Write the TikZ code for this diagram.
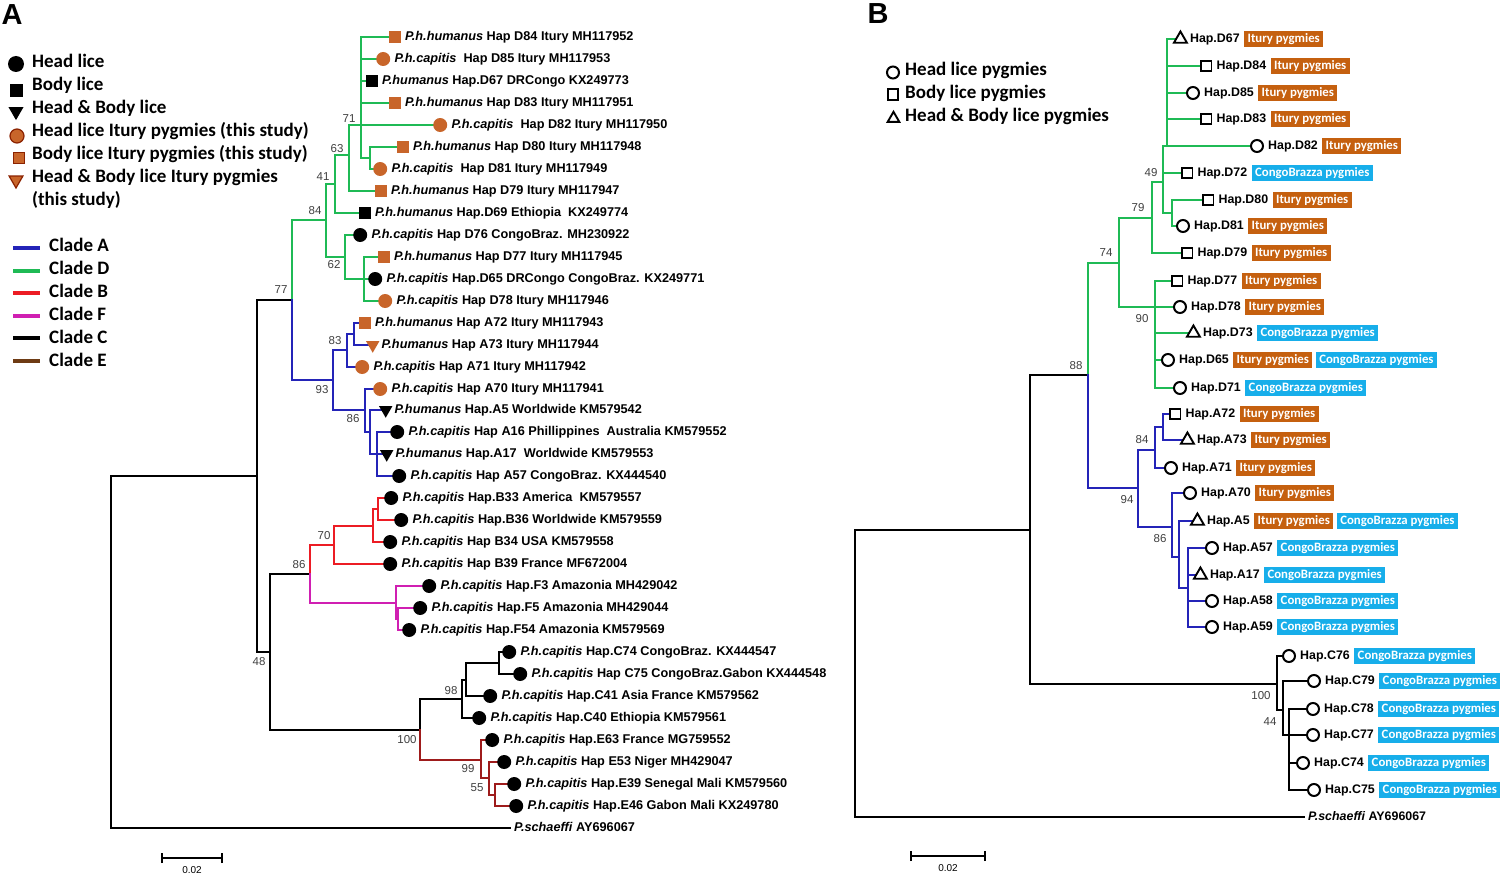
\documentclass[tikz,border=0pt]{standalone}
\usepackage{fontspec}
\setmainfont{Liberation Sans}
\newfontfamily\calfont{Carlito}
\usetikzlibrary{shapes.geometric,backgrounds}
\definecolor{clG}{HTML}{1FBA55}
\definecolor{clA}{HTML}{2424B8}
\definecolor{clB}{HTML}{EC1C24}
\definecolor{clF}{HTML}{D01FB2}
\definecolor{clE}{HTML}{9E1B1B}
\definecolor{clEleg}{HTML}{6E3B14}
\definecolor{orM}{HTML}{C8652A}
\definecolor{orEdge}{HTML}{8B2200}
\definecolor{boxOr}{HTML}{C5600F}
\definecolor{boxCy}{HTML}{17AEEA}
\definecolor{bsGray}{HTML}{404040}
\tikzset{
 br/.style={line width=2.2pt, line cap=rect},
 brK/.style={br, draw=black},
 brG/.style={br, draw=clG},
 brA/.style={br, draw=clA},
 brB/.style={br, draw=clB},
 brF/.style={br, draw=clF},
 brE/.style={br, draw=clE},
 bsl/.style={font=\fontsize{11.5}{12}\selectfont, text=bsGray, inner sep=0pt},
 labA/.style={font=\fontsize{12.7}{14}\selectfont\bfseries, inner sep=0pt, anchor=west, xshift=4pt, text height=9pt, text depth=2.5pt},
 labB/.style={font=\fontsize{12.4}{14}\selectfont\bfseries, inner sep=0pt, anchor=west, xshift=4pt, text height=9pt, text depth=2.5pt},
 tagbox/.style={font=\calfont\bfseries\fontsize{12.8}{14}\selectfont, text=white, inner xsep=3.5pt, inner ysep=1.5pt, text height=9.3pt, text depth=3pt, anchor=west, xshift=4pt},
 itury/.style={tagbox, fill=boxOr},
 congo/.style={tagbox, fill=boxCy},
 legtxt/.style={font=\calfont\bfseries\fontsize{19}{22}\selectfont, inner sep=0pt, anchor=west, text height=13pt, text depth=4pt},
 mkC/.style={circle, fill=black, minimum size=14pt, inner sep=0pt},
 mkS/.style={rectangle, fill=black, minimum size=11.5pt, inner sep=0pt},
 mkT/.style={regular polygon, regular polygon sides=3, shape border rotate=180, fill=black, minimum size=15.5pt, inner sep=0pt},
 mkOC/.style={mkC, fill=orM},
 mkOS/.style={mkS, fill=orM},
 mkOT/.style={mkT, fill=orM},
 opC/.style={circle, draw=black, line width=2pt, minimum size=12pt, inner sep=0pt},
 opS/.style={rectangle, draw=black, line width=1.9pt, minimum size=10.5pt, inner sep=0pt},
 opT/.style={regular polygon, regular polygon sides=3, draw=black, line width=1.9pt, minimum size=15pt, inner sep=0pt},
 sclab/.style={font=\fontsize{10}{11}\selectfont, inner sep=0pt},
 clsample/.style={line width=3.5pt},
}
\newcommand\tipA[5]{\node[#4, anchor=west] (m#1) at (#2,#3) {};\node[labA] (l#1) at (m#1.east) {#5};}
\newcommand\tipB[5]{\node[#4, anchor=west] (m#1) at (#2,#3) {};\node[labB] (l#1) at (m#1.east) {#5};}
\newcommand\tagI[2]{\node[itury] (#1) at (#2.east) {Itury pygmies};}
\newcommand\tagC[2]{\node[congo] (#1) at (#2.east) {CongoBrazza pygmies};}
\begin{document}
\begin{tikzpicture}[x=1pt,y=-1pt]
\begin{scope}[on background layer]
\fill[white] (0,0) rectangle (1512,875);
\end{scope}
\useasboundingbox (0,0) rectangle (1512,875);

% panel letters
\node[font=\bfseries\fontsize{29}{30}\selectfont, inner sep=0pt] (pA) at (12,15) {A};
\node[font=\bfseries\fontsize{29}{30}\selectfont, inner sep=0pt] (pB) at (878,14) {B};

% legend A
\node[mkC, minimum size=16pt] (lgC) at (16,64) {};
\node[mkS, minimum size=13pt] (lgS) at (16,90) {};
\node[mkT, minimum size=17.4pt] (lgT) at (16,111.4) {};
\node[mkOC, draw=orEdge, line width=1.2pt, minimum size=14pt] (lgOC) at (17,136) {};
\node[mkOS, draw=orEdge, line width=1.2pt, minimum size=11pt] (lgOS) at (19,158) {};
\node[mkOT, draw=orEdge, line width=1.2pt, minimum size=16pt] (lgOT) at (16,180) {};
\node[legtxt] (lt1) at (32,63) {Head lice};
\node[legtxt] (lt2) at (32,86) {Body lice};
\node[legtxt] (lt3) at (32,109) {Head \& Body lice};
\node[legtxt] (lt4) at (32,132) {Head lice Itury pygmies (this study)};
\node[legtxt] (lt5) at (32,155) {Body lice Itury pygmies (this study)};
\node[legtxt] (lt6) at (32,178) {Head \& Body lice Itury pygmies};
\node[legtxt] (lt7) at (32,201) {(this study)};
\draw[clsample, clA] (13,248) -- (40,248);
\draw[clsample, clG] (13,271) -- (40,271);
\draw[clsample, clB] (13,293) -- (40,293);
\draw[clsample, clF] (13,316) -- (40,316);
\draw[clsample, black] (13,338) -- (40,338);
\draw[clsample, clEleg] (13,361) -- (40,361);
\node[legtxt] (lc1) at (49,247) {Clade A};
\node[legtxt] (lc2) at (49,270) {Clade D};
\node[legtxt] (lc3) at (49,293) {Clade B};
\node[legtxt] (lc4) at (49,316) {Clade F};
\node[legtxt] (lc5) at (49,339) {Clade C};
\node[legtxt] (lc6) at (49,362) {Clade E};

% ---------- Panel A tree ----------
\coordinate (RA) at (111,652);
\coordinate (N48) at (257,476);
\coordinate (N77) at (292,300);
\coordinate (N84) at (326,220);
\coordinate (N41) at (335,184);
\coordinate (N63) at (349,155);
\coordinate (N71) at (361,125);
\coordinate (NDa) at (370,158);
\coordinate (N62) at (345,257);
\coordinate (NDb) at (364,279);
\coordinate (N93) at (333,380);
\coordinate (N83) at (347,350);
\coordinate (NAa) at (354,334);
\coordinate (N86) at (365,410);
\coordinate (NAb) at (370,432);
\coordinate (NAc) at (377,454);
\coordinate (NBCFE) at (270,652);
\coordinate (N86BF) at (310,574);
\coordinate (N70) at (334,545);
\coordinate (NBa) at (373,526);
\coordinate (NBb) at (378,509);
\coordinate (NF) at (396,603);
\coordinate (NFa) at (398,619);
\coordinate (N100) at (420,730);
\coordinate (N98) at (462,699);
\coordinate (NCa) at (466,680);
\coordinate (NCb) at (499,663);
\coordinate (N99) at (481,760);
\coordinate (N55) at (489,778);
\coordinate (NEa) at (495,795);
\coordinate (tPS) at (510,828);

\tipA{D84}{389}{37}{mkOS}{\textit{P.h.humanus} Hap D84 Itury MH117952}
\tipA{D85}{376}{59}{mkOC}{\textit{P.h.capitis}\ \ Hap D85 Itury MH117953}
\tipA{D67}{366}{81}{mkS}{\textit{P.humanus} Hap.D67 DRCongo KX249773}
\tipA{D83}{389}{103}{mkOS}{\textit{P.h.humanus} Hap D83 Itury MH117951}
\tipA{D82}{433}{125}{mkOC}{\textit{P.h.capitis}\ \ Hap D82 Itury MH117950}
\tipA{D80}{397}{147}{mkOS}{\textit{P.h.humanus} Hap D80 Itury MH117948}
\tipA{D81}{373}{169}{mkOC}{\textit{P.h.capitis}\ \ Hap D81 Itury MH117949}
\tipA{D79}{375}{191}{mkOS}{\textit{P.h.humanus} Hap D79 Itury MH117947}
\tipA{D69}{359}{213}{mkS}{\textit{P.h.humanus} Hap.D69 Ethiopia\ \ KX249774}
\tipA{D76}{353}{235}{mkC}{\textit{P.h.capitis} Hap D76 CongoBraz. MH230922}
\tipA{D77}{378}{257}{mkOS}{\textit{P.h.humanus} Hap D77 Itury MH117945}
\tipA{D65}{368}{279}{mkC}{\textit{P.h.capitis} Hap.D65 DRCongo CongoBraz. KX249771}
\tipA{D78}{378}{301}{mkOC}{\textit{P.h.capitis} Hap D78 Itury MH117946}
\tipA{A72}{359}{323}{mkOS}{\textit{P.h.humanus} Hap A72 Itury MH117943}
\tipA{A73}{368}{345}{mkOT}{\textit{P.humanus} Hap A73 Itury MH117944}
\tipA{A71}{355}{367}{mkOC}{\textit{P.h.capitis} Hap A71 Itury MH117942}
\tipA{A70}{373}{389}{mkOC}{\textit{P.h.capitis} Hap A70 Itury MH117941}
\tipA{A5}{381}{410}{mkT}{\textit{P.humanus} Hap.A5 Worldwide KM579542}
\tipA{A16}{390}{432}{mkC}{\textit{P.h.capitis} Hap A16 Phillippines\ \ Australia KM579552}
\tipA{A17}{382}{454}{mkT}{\textit{P.humanus} Hap.A17\ \ Worldwide KM579553}
\tipA{A57}{392}{476}{mkC}{\textit{P.h.capitis} Hap A57 CongoBraz. KX444540}
\tipA{B33}{384}{498}{mkC}{\textit{P.h.capitis} Hap.B33 America\ \ KM579557}
\tipA{B36}{394}{520}{mkC}{\textit{P.h.capitis} Hap.B36 Worldwide KM579559}
\tipA{B34}{383}{542}{mkC}{\textit{P.h.capitis} Hap B34 USA KM579558}
\tipA{B39}{383}{564}{mkC}{\textit{P.h.capitis} Hap B39 France MF672004}
\tipA{F3}{422}{586}{mkC}{\textit{P.h.capitis} Hap.F3 Amazonia MH429042}
\tipA{F5}{413}{608}{mkC}{\textit{P.h.capitis} Hap.F5 Amazonia MH429044}
\tipA{F54}{402}{630}{mkC}{\textit{P.h.capitis} Hap.F54 Amazonia KM579569}
\tipA{C74}{502}{652}{mkC}{\textit{P.h.capitis} Hap.C74 CongoBraz. KX444547}
\tipA{C75}{513}{674}{mkC}{\textit{P.h.capitis} Hap C75 CongoBraz.Gabon KX444548}
\tipA{C41}{483}{696}{mkC}{\textit{P.h.capitis} Hap.C41 Asia France KM579562}
\tipA{C40}{472}{718}{mkC}{\textit{P.h.capitis} Hap.C40 Ethiopia KM579561}
\tipA{E63}{485}{740}{mkC}{\textit{P.h.capitis} Hap.E63 France MG759552}
\tipA{E53}{497}{762}{mkC}{\textit{P.h.capitis} Hap E53 Niger MH429047}
\tipA{E39}{507}{784}{mkC}{\textit{P.h.capitis} Hap.E39 Senegal Mali KM579560}
\tipA{E46}{509}{806}{mkC}{\textit{P.h.capitis} Hap.E46 Gabon Mali KX249780}
\node[labA] (lPS) at (tPS) {\textit{P.schaeffi} AY696067};

\begin{scope}[on background layer]
\draw[brK] (RA) |- (N48);
\draw[brK] (RA) |- (tPS);
\draw[brK] (N48) |- (N77);
\draw[brK] (N48) |- (NBCFE);
\draw[brK] (NBCFE) |- (N86BF);
\draw[brK] (NBCFE) |- (N100);
\draw[brK] (N100) |- (N98);
\draw[brK] (N98) |- (NCa);
\draw[brK] (N98) |- (mC40.west);
\draw[brK] (NCa) |- (NCb);
\draw[brK] (NCa) |- (mC41.west);
\draw[brK] (NCb) |- (mC74.west);
\draw[brK] (NCb) |- (mC75.west);
\draw[brE] (N100) |- (N99);
\draw[brE] (N99) |- (mE63.west);
\draw[brE] (N99) |- (N55);
\draw[brE] (N55) |- (mE53.west);
\draw[brE] (N55) |- (NEa);
\draw[brE] (NEa) |- (mE39.west);
\draw[brE] (NEa) |- (mE46.west);
\draw[brG] (N77) |- (N84);
\draw[brG] (N84) |- (N41);
\draw[brG] (N84) |- (N62);
\draw[brG] (N41) |- (N63);
\draw[brG] (N41) |- (mD69.west);
\draw[brG] (N63) |- (N71);
\draw[brG] (N63) |- (mD79.west);
\draw[brG] (N71) |- (mD84.west);
\draw[brG] (N71) |- (mD85.west);
\draw[brG] (N71) |- (mD67.west);
\draw[brG] (N71) |- (mD83.west);
\draw[brG] (N71) |- (mD82.west);
\draw[brG] (N71) |- (NDa);
\draw[brG] (NDa) |- (mD80.west);
\draw[brG] (NDa) |- (mD81.west);
\draw[brG] (N62) |- (mD76.west);
\draw[brG] (N62) |- (NDb);
\draw[brG] (NDb) |- (mD77.west);
\draw[brG] (NDb) |- (mD65.west);
\draw[brG] (NDb) |- (mD78.west);
\draw[brA] (N77) |- (N93);
\draw[brA] (N93) |- (N83);
\draw[brA] (N93) |- (N86);
\draw[brA] (N83) |- (NAa);
\draw[brA] (N83) |- (mA71.west);
\draw[brA] (NAa) |- (mA72.west);
\draw[brA] (NAa) |- (mA73.west);
\draw[brA] (N86) |- (mA70.west);
\draw[brA] (N86) |- (NAb);
\draw[brA] (NAb) |- (mA5.west);
\draw[brA] (NAb) |- (NAc);
\draw[brA] (NAc) |- (mA16.west);
\draw[brA] (NAc) |- (mA17.west);
\draw[brA] (NAc) |- (mA57.west);
\draw[brB] (N86BF) |- (N70);
\draw[brB] (N70) |- (NBa);
\draw[brB] (N70) |- (mB39.west);
\draw[brB] (NBa) |- (NBb);
\draw[brB] (NBa) |- (mB34.west);
\draw[brB] (NBb) |- (mB33.west);
\draw[brB] (NBb) |- (mB36.west);
\draw[brF] (N86BF) |- (NF);
\draw[brF] (NF) |- (mF3.west);
\draw[brF] (NF) |- (NFa);
\draw[brF] (NFa) |- (mF5.west);
\draw[brF] (NFa) |- (mF54.west);
\end{scope}

% bootstrap A
\node[bsl] (bA71) at (349,119) {71};
\node[bsl] (bA63) at (337,149) {63};
\node[bsl] (bA41) at (323,177) {41};
\node[bsl] (bA84) at (315,211) {84};
\node[bsl] (bA62) at (334,265) {62};
\node[bsl] (bA77) at (281,290) {77};
\node[bsl] (bA83) at (335,341) {83};
\node[bsl] (bA93) at (322,390) {93};
\node[bsl] (bA86) at (353,419) {86};
\node[bsl] (bA70) at (324,536) {70};
\node[bsl] (bA86b) at (299,565) {86};
\node[bsl] (bA48) at (259,662) {48};
\node[bsl] (bA98) at (451,691) {98};
\node[bsl] (bA100) at (407,740) {100};
\node[bsl] (bA99) at (468,769) {99};
\node[bsl] (bA55) at (477,788) {55};

% scale bar A
\coordinate (sa1) at (162,858);
\coordinate (sa2) at (222,858);
\draw[line width=1.5pt] (sa1) -- (sa2);
\draw[line width=1.5pt] ([yshift=-5pt]sa1) -- ([yshift=5pt]sa1);
\draw[line width=1.5pt] ([yshift=-5pt]sa2) -- ([yshift=5pt]sa2);
\node[sclab] (sat) at (192,870) {0.02};

% ---------- legend B ----------
\node[opC] (lbC) at (893,72.5) {};
\node[opS] (lbS) at (893,94.5) {};
\node[opT, minimum size=13.4pt] (lbT) at (893.5,118.5) {};
\node[legtxt] (lbt1) at (905,71) {Head lice pygmies};
\node[legtxt] (lbt2) at (905,94) {Body lice pygmies};
\node[legtxt] (lbt3) at (905,117) {Head \& Body lice pygmies};

% ---------- Panel B tree ----------
\coordinate (RB0) at (855,673);
\coordinate (RB) at (1030,530);
\coordinate (N88) at (1088,375);
\coordinate (N74) at (1119,263);
\coordinate (N79) at (1152,218);
\coordinate (N49) at (1163,182);
\coordinate (NBtop) at (1167,146);
\coordinate (NBda) at (1172,213);
\coordinate (N90) at (1155,307);
\coordinate (N94) at (1138,488);
\coordinate (N84B) at (1155,450);
\coordinate (NBaa) at (1163,427);
\coordinate (N86B) at (1172,527);
\coordinate (NBx) at (1179,557);
\coordinate (NBy) at (1188,588);
\coordinate (N100B) at (1277,684);
\coordinate (N44) at (1283,710);
\coordinate (NBc) at (1289,735);
\coordinate (tPSB) at (1304,817);

\tipB{bD67}{1175}{39}{opT}{Hap.D67} \tagI{xbD67}{lbD67}
\tipB{bD84}{1200}{66}{opS}{Hap.D84} \tagI{xbD84}{lbD84}
\tipB{bD85}{1186}{93}{opC}{Hap.D85} \tagI{xbD85}{lbD85}
\tipB{bD83}{1200}{119}{opS}{Hap.D83} \tagI{xbD83}{lbD83}
\tipB{bD82}{1250}{146}{opC}{Hap.D82} \tagI{xbD82}{lbD82}
\tipB{bD72}{1181}{173}{opS}{Hap.D72} \tagC{xbD72}{lbD72}
\tipB{bD80}{1202}{200}{opS}{Hap.D80} \tagI{xbD80}{lbD80}
\tipB{bD81}{1176}{226}{opC}{Hap.D81} \tagI{xbD81}{lbD81}
\tipB{bD79}{1181}{253}{opS}{Hap.D79} \tagI{xbD79}{lbD79}
\tipB{bD77}{1171}{281}{opS}{Hap.D77} \tagI{xbD77}{lbD77}
\tipB{bD78}{1173}{307}{opC}{Hap.D78} \tagI{xbD78}{lbD78}
\tipB{bD73}{1188}{333}{opT}{Hap.D73} \tagC{xbD73}{lbD73}
\tipB{bD65}{1161}{360}{opC}{Hap.D65} \tagI{xbD65}{lbD65}
\node[congo, xshift=-1pt] (ybD65) at (xbD65.east) {CongoBrazza pygmies};
\tipB{bD71}{1173}{388}{opC}{Hap.D71} \tagC{xbD71}{lbD71}
\tipB{bA72}{1169}{414}{opS}{Hap.A72} \tagI{xbA72}{lbA72}
\tipB{bA73}{1182}{440}{opT}{Hap.A73} \tagI{xbA73}{lbA73}
\tipB{bA71}{1164}{468}{opC}{Hap.A71} \tagI{xbA71}{lbA71}
\tipB{bA70}{1183}{493}{opC}{Hap.A70} \tagI{xbA70}{lbA70}
\tipB{bA5}{1192}{521}{opT}{Hap.A5} \tagI{xbA5}{lbA5}
\node[congo, xshift=-1pt] (ybA5) at (xbA5.east) {CongoBrazza pygmies};
\tipB{bA57}{1205}{548}{opC}{Hap.A57} \tagC{xbA57}{lbA57}
\tipB{bA17}{1195}{575}{opT}{Hap.A17} \tagC{xbA17}{lbA17}
\tipB{bA58}{1205}{601}{opC}{Hap.A58} \tagC{xbA58}{lbA58}
\tipB{bA59}{1205}{627}{opC}{Hap.A59} \tagC{xbA59}{lbA59}
\tipB{bC76}{1282}{656}{opC}{Hap.C76} \tagC{xbC76}{lbC76}
\tipB{bC79}{1307}{681}{opC}{Hap.C79} \tagC{xbC79}{lbC79}
\tipB{bC78}{1306}{709}{opC}{Hap.C78} \tagC{xbC78}{lbC78}
\tipB{bC77}{1306}{735}{opC}{Hap.C77} \tagC{xbC77}{lbC77}
\tipB{bC74}{1296}{763}{opC}{Hap.C74} \tagC{xbC74}{lbC74}
\tipB{bC75}{1307}{790}{opC}{Hap.C75} \tagC{xbC75}{lbC75}
\node[labB] (lPSB) at (tPSB) {\textit{P.schaeffi} AY696067};

\begin{scope}[on background layer]
\draw[brK] (RB0) |- (RB);
\draw[brK] (RB0) |- (tPSB);
\draw[brK] (RB) |- (N88);
\draw[brK] (RB) |- (N100B);
\draw[brK] (N100B) |- (mbC76.west);
\draw[brK] (N100B) |- (N44);
\draw[brK] (N44) |- (mbC79.west);
\draw[brK] (N44) |- (NBc);
\draw[brK] (NBc) |- (mbC78.west);
\draw[brK] (NBc) |- (mbC77.west);
\draw[brK] (NBc) |- (mbC74.west);
\draw[brK] (NBc) |- (mbC75.west);
\draw[brG] (N88) |- (N74);
\draw[brG] (N74) |- (N79);
\draw[brG] (N74) |- (N90);
\draw[brG] (N79) |- (N49);
\draw[brG] (N79) |- (mbD79.west);
\draw[brG] (N49) |- (NBtop);
\draw[brG] (N49) |- (mbD72.west);
\draw[brG] (N49) |- (NBda);
\draw[brG] (NBtop) |- (mbD67.west);
\draw[brG] (NBtop) |- (mbD84.west);
\draw[brG] (NBtop) |- (mbD85.west);
\draw[brG] (NBtop) |- (mbD83.west);
\draw[brG] (NBtop) |- (mbD82.west);
\draw[brG] (NBda) |- (mbD80.west);
\draw[brG] (NBda) |- (mbD81.west);
\draw[brG] (N90) |- (mbD77.west);
\draw[brG] (N90) |- (mbD78.west);
\draw[brG] (N90) |- (mbD73.west);
\draw[brG] (N90) |- (mbD65.west);
\draw[brG] (N90) |- (mbD71.west);
\draw[brA] (N88) |- (N94);
\draw[brA] (N94) |- (N84B);
\draw[brA] (N94) |- (N86B);
\draw[brA] (N84B) |- (NBaa);
\draw[brA] (N84B) |- (mbA71.west);
\draw[brA] (NBaa) |- (mbA72.west);
\draw[brA] (NBaa) |- (mbA73.west);
\draw[brA] (N86B) |- (mbA70.west);
\draw[brA] (N86B) |- (NBx);
\draw[brA] (NBx) |- (mbA5.west);
\draw[brA] (NBx) |- (NBy);
\draw[brA] (NBy) |- (mbA57.west);
\draw[brA] (NBy) |- (mbA17.west);
\draw[brA] (NBy) |- (mbA58.west);
\draw[brA] (NBy) |- (mbA59.west);
\end{scope}

% bootstrap B
\node[bsl] (bB49) at (1151,173) {49};
\node[bsl] (bB79) at (1138,208) {79};
\node[bsl] (bB74) at (1106,253) {74};
\node[bsl] (bB90) at (1142,319) {90};
\node[bsl] (bB88) at (1076,366) {88};
\node[bsl] (bB84) at (1142,440) {84};
\node[bsl] (bB94) at (1127,500) {94};
\node[bsl] (bB86) at (1160,539) {86};
\node[bsl] (bB100) at (1261,696) {100};
\node[bsl] (bB44) at (1270,722) {44};

% scale bar B
\coordinate (sb1) at (911,856);
\coordinate (sb2) at (985,856);
\draw[line width=1.5pt] (sb1) -- (sb2);
\draw[line width=1.5pt] ([yshift=-5pt]sb1) -- ([yshift=5pt]sb1);
\draw[line width=1.5pt] ([yshift=-5pt]sb2) -- ([yshift=5pt]sb2);
\node[sclab] (sbt) at (948,868) {0.02};
\end{tikzpicture}
\end{document}
